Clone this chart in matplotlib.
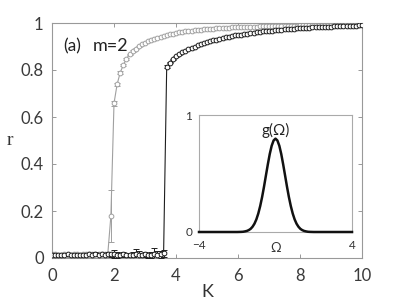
import numpy as np
import matplotlib
matplotlib.use("Agg")
import matplotlib.pyplot as plt

plt.rcParams['font.family'] = ['Lato', 'DejaVu Sans']

# ---------------- data ----------------
K = np.round(np.linspace(0, 10, 101), 2)

r_gray = [0.015, 0.016, 0.014, 0.013, 0.015, 0.014, 0.013, 0.015, 0.016, 0.014,
          0.015, 0.017, 0.016, 0.015, 0.018, 0.017, 0.016, 0.019, 0.018,
          0.18, 0.658,
          0.739, 0.789, 0.821, 0.848, 0.866, 0.880, 0.891, 0.901, 0.909, 0.916,
          0.922, 0.928, 0.933, 0.938, 0.942, 0.946, 0.949, 0.952, 0.955, 0.958,
          0.960, 0.962, 0.964, 0.966, 0.968, 0.969, 0.971, 0.972, 0.973, 0.974,
          0.975, 0.976, 0.977, 0.978, 0.979, 0.980, 0.980, 0.981, 0.982, 0.982,
          0.983, 0.983, 0.984, 0.984, 0.985, 0.985, 0.986, 0.986, 0.986, 0.987,
          0.987, 0.987, 0.988, 0.988, 0.988, 0.989, 0.989, 0.989, 0.989, 0.990,
          0.990, 0.990, 0.990, 0.991, 0.991, 0.991, 0.991, 0.991, 0.992, 0.992,
          0.992, 0.992, 0.992, 0.993, 0.993, 0.993, 0.993, 0.993, 0.993, 0.994]

e_gray = [0.006, 0.005, 0.006, 0.005, 0.006, 0.005, 0.006, 0.005, 0.006, 0.006,
          0.005, 0.007, 0.006, 0.006, 0.008, 0.007, 0.006, 0.008, 0.007,
          0.11, 0.012,
          0.006, 0.005, 0.004, 0.004, 0.003, 0.003, 0.003, 0.003, 0.003, 0.003] + [0.002] * 70

r_dark = [0.012, 0.014, 0.011, 0.013, 0.012, 0.015, 0.013, 0.012, 0.014, 0.013,
          0.012, 0.014, 0.015, 0.013, 0.016, 0.014, 0.015, 0.013, 0.016,
          0.015, 0.018, 0.014, 0.012, 0.016, 0.013, 0.011, 0.014, 0.017, 0.012,
          0.013, 0.015, 0.012, 0.014, 0.018, 0.013, 0.016, 0.020,
          0.814, 0.830, 0.845, 0.858, 0.867, 0.875, 0.882, 0.889, 0.895, 0.900,
          0.905, 0.910, 0.914, 0.918, 0.922, 0.926, 0.929, 0.933, 0.936, 0.939,
          0.942, 0.944, 0.947, 0.949, 0.951, 0.953, 0.955, 0.957, 0.959, 0.961,
          0.962, 0.964, 0.965, 0.967, 0.968, 0.969, 0.971, 0.972, 0.973, 0.974,
          0.975, 0.976, 0.977, 0.978, 0.979, 0.979, 0.980, 0.981, 0.982, 0.982,
          0.983, 0.984, 0.984, 0.985, 0.986, 0.986, 0.987, 0.987, 0.988, 0.988,
          0.989, 0.989, 0.990, 0.990]

e_dark = [0.005, 0.006, 0.005, 0.006, 0.005, 0.007, 0.006, 0.005, 0.006, 0.006,
          0.005, 0.007, 0.008, 0.006, 0.009, 0.007, 0.008, 0.006, 0.009,
          0.010, 0.016, 0.012, 0.008, 0.010, 0.009, 0.008, 0.010, 0.022, 0.018,
          0.010, 0.012, 0.010, 0.012, 0.024, 0.018, 0.014, 0.016,
          0.006] + [0.002] * 63

omega = [-4.0, -2.0, -1.8, -1.7, -1.6, -1.5, -1.4, -1.3, -1.2, -1.1, -1.0,
         -0.9, -0.8, -0.7, -0.6, -0.5, -0.4, -0.3, -0.2, -0.1, 0.0,
         0.1, 0.2, 0.3, 0.4, 0.5, 0.6, 0.7, 0.8, 0.9, 1.0,
         1.1, 1.2, 1.3, 1.4, 1.5, 1.6, 1.7, 1.8, 2.0, 4.0]
g_omega = [0.0, 0.0, 0.001, 0.002, 0.005, 0.009, 0.016, 0.027, 0.045, 0.071, 0.108,
           0.158, 0.222, 0.299, 0.388, 0.484, 0.579, 0.667, 0.737, 0.782, 0.798,
           0.782, 0.737, 0.667, 0.579, 0.484, 0.388, 0.299, 0.222, 0.158, 0.108,
           0.071, 0.045, 0.027, 0.016, 0.009, 0.005, 0.002, 0.001, 0.0, 0.0]

xticks = [0, 2, 4, 6, 8, 10]
yticks = [0, 0.2, 0.4, 0.6, 0.8, 1]
ytick_labels = ['0', '0.2', '0.4', '0.6', '0.8', '1']

# ---------------- figure ----------------
fig = plt.figure(figsize=(3.99, 2.99), dpi=100)
ax = fig.add_axes([52/399, 41/299, 310/399, 235/299])

gray = '#a0a0a0'
dark = '#1e1e1e'
ax.errorbar(K, r_gray, yerr=e_gray, fmt='-o', color=gray, mfc='white', mec=gray,
            ms=3.4, mew=0.7, lw=0.8, elinewidth=0.7, capsize=2.2, capthick=0.7, zorder=2)
ax.errorbar(K, r_dark, yerr=e_dark, fmt='-o', color=dark, mfc='white', mec=dark,
            ms=3.4, mew=0.7, lw=0.8, elinewidth=0.7, capsize=2.2, capthick=0.7, zorder=3)

ax.set_xlim(0, 10)
ax.set_ylim(0, 1)
ax.set_xticks(xticks)
ax.set_yticks(yticks)
ax.set_yticklabels(ytick_labels)
ax.tick_params(direction='in', top=True, right=True, length=3, width=0.6,
               color='#888888', labelcolor='#3a3a3a', labelsize=12)
ax.tick_params(axis='x', pad=7)
ax.tick_params(axis='y', pad=6)
for s in ax.spines.values():
    s.set_color('#999999')
    s.set_linewidth(0.8)
ax.set_xlabel('K', fontsize=13, color='#333333', labelpad=0)
ax.set_ylabel('r', fontsize=14, color='#333333', family='Liberation Serif',
              rotation=0, labelpad=8, va='center')
ax.text(0.035, 0.88, '(a)', transform=ax.transAxes, fontsize=12.5, color='#222222')
ax.text(0.132, 0.88, 'm=2', transform=ax.transAxes, fontsize=13, color='#222222')

# inset
ins = fig.add_axes([199/399, 67/299, 153/399, 117/299])
ins.plot(omega, g_omega, color='#111111', lw=1.8, zorder=3, clip_on=False)
ins.set_xlim(-4, 4)
ins.set_ylim(0, 1)
ins.set_xticks([-4, 4])
ins.set_yticks([0, 1])
ins.tick_params(length=0, labelsize=8.5, labelcolor='#333333')
ins.tick_params(axis='x', pad=6)
ins.tick_params(axis='y', pad=5)
for s in ins.spines.values():
    s.set_color('#aaaaaa')
    s.set_linewidth(0.8)
ins.text(0.5, -0.14, 'Ω', transform=ins.transAxes, ha='center', va='center',
         fontsize=9.5, color='#333333')
ins.text(0, 0.87, 'g(Ω)', ha='center', va='center', fontsize=11, color='#222222')

fig.savefig('out.png', dpi=100)
